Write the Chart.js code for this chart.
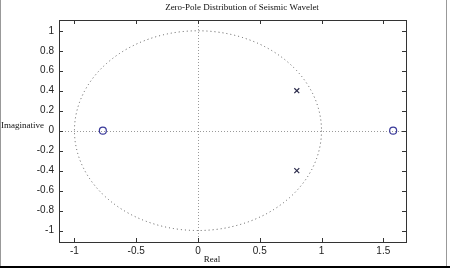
<!DOCTYPE html>
<html>
<head>
<meta charset="utf-8">
<script src="https://cdn.jsdelivr.net/npm/chart.js@4.4.1/dist/chart.umd.min.js"></script>
<style>
  html, body { margin: 0; padding: 0; background: #fff; }
  canvas { display: block; }
</style>
</head>
<body>
<canvas id="c" width="450" height="272"></canvas>
<script>
// zeros and poles
const zeroRe = [-0.77, 1.58];
const zeroIm = [0, 0];
const poleRe = [0.8, 0.8];
const poleIm = [0.4, -0.4];

const xTicks = [-1, -0.5, 0, 0.5, 1, 1.5];
const yTicks = [-1, -0.8, -0.6, -0.4, -0.2, 0, 0.2, 0.4, 0.6, 0.8, 1];

const titleText = "Zero-Pole Distribution of Seismic Wavelet";
const xLabel = "Real";
const yLabel = "Imaginative";

const pts = (re, im) => re.map((v, i) => ({ x: v, y: im[i] }));

const frame = {
  id: "frame",
  beforeDatasetsDraw(chart) {
    const { ctx, scales: { x, y }, chartArea: a } = chart;
    const cx = x.getPixelForValue(0), cy = y.getPixelForValue(0);
    ctx.save();
    // dotted axes through origin
    ctx.strokeStyle = "#9a9a9a";
    ctx.lineWidth = 1;
    ctx.setLineDash([1, 2]);
    ctx.beginPath();
    ctx.moveTo(a.left, Math.round(cy) + 0.5); ctx.lineTo(a.right, Math.round(cy) + 0.5);
    ctx.moveTo(Math.round(cx) + 0.5, a.top); ctx.lineTo(Math.round(cx) + 0.5, a.bottom);
    ctx.stroke();
    // unit circle
    const rx = x.getPixelForValue(1) - cx, ry = cy - y.getPixelForValue(1);
    ctx.strokeStyle = "#555";
    ctx.setLineDash([1, 3]);
    ctx.beginPath();
    ctx.ellipse(cx, cy, rx, ry, 0, 0, Math.PI * 2);
    ctx.stroke();
    ctx.restore();
  },
  afterDraw(chart) {
    const { ctx, scales: { x, y }, chartArea: a } = chart;
    ctx.save();
    // picture frame
    ctx.strokeStyle = "#999";
    ctx.lineWidth = 1;
    ctx.beginPath();
    ctx.moveTo(0.5, 0); ctx.lineTo(0.5, 266);
    ctx.moveTo(446.5, 0); ctx.lineTo(446.5, 266);
    ctx.stroke();
    ctx.strokeStyle = "#000";
    ctx.lineWidth = 2;
    ctx.beginPath();
    ctx.moveTo(0, 267); ctx.lineTo(450, 267);
    ctx.stroke();

    ctx.strokeStyle = "#333";
    ctx.lineWidth = 1;
    ctx.strokeRect(a.left + 0.5, a.top + 0.5, a.right - a.left, a.bottom - a.top);
    // inward ticks on all four sides
    ctx.beginPath();
    xTicks.forEach(v => {
      const px = Math.round(x.getPixelForValue(v)) + 0.5;
      ctx.moveTo(px, a.bottom); ctx.lineTo(px, a.bottom - 4);
      ctx.moveTo(px, a.top); ctx.lineTo(px, a.top + 4);
    });
    yTicks.forEach(v => {
      const py = Math.round(y.getPixelForValue(v)) + 0.5;
      ctx.moveTo(a.left, py); ctx.lineTo(a.left + 4, py);
      ctx.moveTo(a.right, py); ctx.lineTo(a.right - 4, py);
    });
    ctx.stroke();

    // texts
    ctx.fillStyle = "#111";
    ctx.font = "9px 'Liberation Serif'";
    ctx.textAlign = "center";
    ctx.textBaseline = "middle";
    ctx.fillText(titleText, 242, 8);
    ctx.fillText(xLabel, 212, 260);
    ctx.textAlign = "left";
    ctx.fillText(yLabel, 1, 126);
    ctx.restore();
  }
};

new Chart(document.getElementById("c"), {
  type: "scatter",
  data: {
    datasets: [
      {
        label: "zeros",
        data: pts(zeroRe, zeroIm),
        pointStyle: "circle",
        pointRadius: 3.5,
        borderColor: "#3a3a9a",
        backgroundColor: "rgba(0,0,0,0)",
        borderWidth: 1.2
      },
      {
        label: "poles",
        data: pts(poleRe, poleIm),
        pointStyle: "crossRot",
        pointRadius: 3.5,
        borderColor: "#2a2a4a",
        borderWidth: 1.2
      }
    ]
  },
  options: {
    responsive: false,
    animation: false,
    layout: { padding: { top: 20, right: 44, left: 0, bottom: 0 } },
    plugins: { legend: { display: false }, tooltip: { enabled: false }, title: { display: false } },
    scales: {
      x: {
        type: "linear",
        min: -1.125,
        max: 1.684,
        afterBuildTicks: s => { s.ticks = xTicks.map(v => ({ value: v })); },
        afterFit: s => { s.height = 30; },
        grid: { display: false, drawTicks: false },
        border: { display: false },
        ticks: {
          padding: 3,
          color: "#222",
          font: { family: "Liberation Sans", size: 10 },
          maxRotation: 0,
          callback: v => String(v)
        }
      },
      y: {
        type: "linear",
        min: -1.115,
        max: 1.108,
        afterBuildTicks: s => { s.ticks = yTicks.map(v => ({ value: v })); },
        afterFit: s => { s.width = 59; },
        grid: { display: false, drawTicks: false },
        border: { display: false },
        ticks: {
          padding: 5,
          color: "#222",
          font: { family: "Liberation Sans", size: 10 },
          callback: v => String(v)
        }
      }
    }
  },
  plugins: [frame]
});
</script>
</body>
</html>
